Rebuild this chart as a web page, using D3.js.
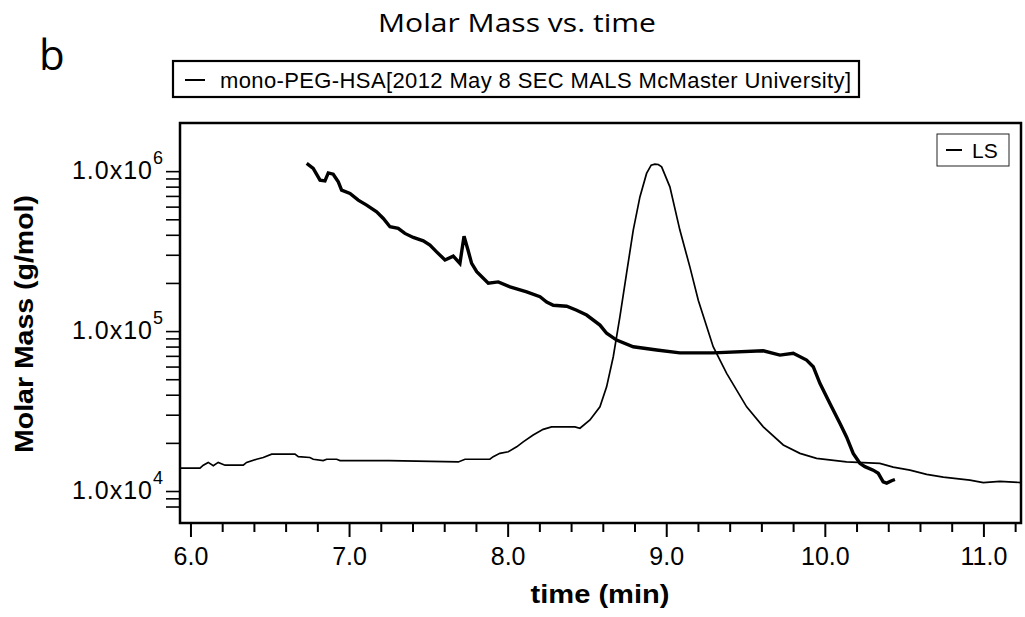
<!DOCTYPE html>
<html>
<head>
<meta charset="utf-8">
<title>Molar Mass vs. time</title>
<script src="https://d3js.org/d3.v7.min.js"></script>
<style>
    body { margin: 0; background: #fff; }
    svg text { fill: #000; font-family: "Liberation Sans", Arial, sans-serif; }
</style>
</head>
<body>
<svg id="chart" width="1025" height="617"></svg>
<script>
    // molar mass trace (thick line)
    const massTime = [6.733, 6.774, 6.817, 6.848, 6.869, 6.900, 6.932, 6.953, 7.006, 7.058, 7.111, 7.174, 7.216, 7.258,
        7.310, 7.352, 7.405, 7.468, 7.510, 7.552, 7.605, 7.657, 7.699, 7.725, 7.750, 7.773, 7.805, 7.878, 7.941, 8.015,
        8.120, 8.204, 8.246, 8.288, 8.372, 8.435, 8.498, 8.582, 8.624, 8.687, 8.792, 8.940, 9.086, 9.296, 9.612, 9.717,
        9.801, 9.885, 9.927, 9.969, 10.032, 10.095, 10.137, 10.179, 10.221, 10.253, 10.305, 10.337, 10.368, 10.390,
        10.421, 10.442];
    const massValue = [1.117e6, 1.04e6, 8.79e5, 8.69e5, 9.75e5, 9.57e5, 8.57e5, 7.61e5, 7.26e5, 6.59e5, 6.13e5, 5.57e5,
        5.06e5, 4.49e5, 4.39e5, 4.08e5, 3.85e5, 3.67e5, 3.45e5, 3.13e5, 2.78e5, 2.94e5, 2.65e5, 3.92e5, 3.21e5, 2.65e5,
        2.35e5, 1.99e5, 2.03e5, 1.89e5, 1.76e5, 1.64e5, 1.52e5, 1.45e5, 1.43e5, 1.35e5, 1.26e5, 1.09e5, 9.69e4, 8.79e4,
        7.98e4, 7.61e4, 7.31e4, 7.31e4, 7.53e4, 7.08e4, 7.26e4, 6.59e4, 5.99e4, 4.71e4, 3.53e4, 2.65e4, 2.18e4, 1.72e4,
        1.49e4, 1.42e4, 1.35e4, 1.29e4, 1.14e4, 1.12e4, 1.16e4, 1.18e4];

    // LS detector trace (thin line)
    const lsTime = [5.934, 6.060, 6.081, 6.112, 6.144, 6.175, 6.218, 6.333, 6.354, 6.417, 6.459, 6.512, 6.659, 6.680,
        6.753, 6.774, 6.837, 6.859, 6.922, 6.943, 7.253, 7.689, 7.731, 7.888, 7.909, 7.951, 8.004, 8.057, 8.098, 8.161,
        8.224, 8.277, 8.424, 8.456, 8.519, 8.582, 8.624, 8.666, 8.708, 8.750, 8.792, 8.834, 8.876, 8.905, 8.928, 8.950,
        8.971, 9.023, 9.086, 9.149, 9.202, 9.296, 9.381, 9.507, 9.612, 9.738, 9.843, 9.948, 10.137, 10.347, 10.431,
        10.537, 10.642, 10.747, 10.915, 10.999, 11.104, 11.237];
    const lsValue = [1.39e4, 1.39e4, 1.45e4, 1.51e4, 1.44e4, 1.51e4, 1.45e4, 1.45e4, 1.51e4, 1.58e4, 1.62e4, 1.70e4,
        1.70e4, 1.64e4, 1.62e4, 1.58e4, 1.55e4, 1.58e4, 1.58e4, 1.55e4, 1.55e4, 1.52e4, 1.58e4, 1.58e4, 1.64e4, 1.72e4,
        1.76e4, 1.89e4, 2.03e4, 2.24e4, 2.43e4, 2.52e4, 2.52e4, 2.47e4, 2.78e4, 3.36e4, 4.48e4, 6.91e4, 1.23e5, 2.30e5,
        4.28e5, 6.90e5, 9.68e5, 1.09e6, 1.106e6, 1.10e6, 1.064e6, 7.98e5, 4.28e5, 2.52e5, 1.56e5, 7.98e4, 5.44e4, 3.36e4,
        2.52e4, 1.94e4, 1.72e4, 1.60e4, 1.52e4, 1.49e4, 1.41e4, 1.35e4, 1.27e4, 1.22e4, 1.17e4, 1.13e4, 1.15e4, 1.13e4];

    // ticks and labels
    const xMajorTicks = [6, 7, 8, 9, 10, 11];
    const xTickLabels = ["6.0", "7.0", "8.0", "9.0", "10.0", "11.0"];
    const xMinorTicks = [6.2, 6.4, 6.6, 6.8, 7.2, 7.4, 7.6, 7.8, 8.2, 8.4, 8.6, 8.8, 9.2, 9.4, 9.6, 9.8,
        10.2, 10.4, 10.6, 10.8, 11.2];
    const yMajorTicks = [1e4, 1e5, 1e6];
    const yTickExponents = ["4", "5", "6"];
    const yMinorTicks = [8e3, 9e3, 2e4, 3e4, 4e4, 5e4, 6e4, 7e4, 8e4, 9e4, 2e5, 3e5, 4e5, 5e5, 6e5, 7e5, 8e5, 9e5];

    const LEFT = 180, RIGHT = 1021, TOP = 123, BOTTOM = 523;

    const svg = d3.select("#chart");

    const x = d3.scaleLinear().domain([5.934, 11.237]).range([LEFT, RIGHT]);
    const y = d3.scaleLog().domain([6310, 2.0e6]).range([BOTTOM, TOP]);

    svg.append("clipPath").attr("id", "plot-clip")
        .append("rect")
        .attr("x", LEFT).attr("y", TOP)
        .attr("width", RIGHT - LEFT).attr("height", BOTTOM - TOP);

    // x axis
    let xMajor = svg.append("g")
        .attr("transform", `translate(0,${BOTTOM})`)
        .call(d3.axisBottom(x).tickValues(xMajorTicks).tickSize(14).tickSizeOuter(0)
            .tickFormat((d, i) => xTickLabels[i]));
    xMajor.select(".domain").remove();
    xMajor.selectAll("line").attr("stroke", "#000").attr("stroke-width", 2);
    xMajor.selectAll("text")
        .attr("y", 42).attr("dy", 0)
        .style("font-size", "25px");

    let xMinor = svg.append("g")
        .attr("transform", `translate(0,${BOTTOM + 1})`)
        .call(d3.axisBottom(x).tickValues(xMinorTicks).tickSize(8).tickSizeOuter(0).tickFormat(""));
    xMinor.select(".domain").remove();
    xMinor.selectAll("line").attr("stroke", "#000").attr("stroke-width", 2);

    // y axis
    let yAxis = svg.append("g")
        .attr("transform", `translate(${LEFT},0)`)
        .call(d3.axisLeft(y).tickValues(yMajorTicks.concat(yMinorTicks)).tickSize(14).tickSizeOuter(0).tickFormat(""));
    yAxis.select(".domain").remove();
    yAxis.selectAll("line").attr("stroke", "#000").attr("stroke-width", 1.6);

    let yLabels = svg.append("g")
        .selectAll("text")
        .data(yMajorTicks)
        .enter()
        .append("text")
        .attr("x", LEFT - 17)
        .attr("y", d => y(d) + 8)
        .attr("text-anchor", "end")
        .style("font-size", "25px");
    yLabels.append("tspan").style("letter-spacing", "1px").text("1.0x10");
    yLabels.append("tspan")
        .attr("dy", -15)
        .style("font-size", "18px")
        .text((d, i) => yTickExponents[i]);

    // frame
    svg.append("rect")
        .attr("x", LEFT).attr("y", TOP)
        .attr("width", RIGHT - LEFT).attr("height", BOTTOM - TOP)
        .attr("fill", "none").attr("stroke", "#000").attr("stroke-width", 2.5);

    // traces
    let line = d3.line().x(d => x(d[0])).y(d => y(d[1]));
    let plot = svg.append("g").attr("clip-path", "url(#plot-clip)");

    plot.append("path")
        .datum(d3.zip(lsTime, lsValue))
        .attr("fill", "none").attr("stroke", "#000").attr("stroke-width", 1.7)
        .attr("d", line);

    plot.append("path")
        .datum(d3.zip(massTime, massValue))
        .attr("fill", "none").attr("stroke", "#000").attr("stroke-width", 3.4)
        .attr("stroke-linejoin", "miter")
        .attr("d", line);

    // titles
    svg.append("text")
        .attr("x", 517).attr("y", 32)
        .attr("text-anchor", "middle")
        .attr("textLength", 278)
        .attr("lengthAdjust", "spacingAndGlyphs")
        .style("font-family", "'Open Sans', sans-serif")
        .style("font-size", "25px")
        .text("Molar Mass vs. time");

    svg.append("text")
        .attr("x", 39).attr("y", 70)
        .style("font-family", "'Open Sans', sans-serif")
        .style("font-size", "42px")
        .text("b");

    svg.append("text")
        .attr("x", 600).attr("y", 603)
        .attr("text-anchor", "middle")
        .attr("textLength", 139)
        .attr("lengthAdjust", "spacingAndGlyphs")
        .style("font-size", "25px")
        .style("font-weight", "bold")
        .text("time (min)");

    svg.append("text")
        .attr("transform", "translate(33,324) rotate(-90)")
        .attr("text-anchor", "middle")
        .attr("textLength", 258)
        .attr("lengthAdjust", "spacingAndGlyphs")
        .style("font-size", "25px")
        .style("font-weight", "bold")
        .text("Molar Mass (g/mol)");

    // sample legend
    svg.append("rect")
        .attr("x", 173).attr("y", 61)
        .attr("width", 686).attr("height", 36)
        .attr("fill", "#fff").attr("stroke", "#000").attr("stroke-width", 2.2);
    svg.append("line")
        .attr("x1", 185).attr("x2", 205).attr("y1", 80).attr("y2", 80)
        .attr("stroke", "#000").attr("stroke-width", 2);
    svg.append("text")
        .attr("x", 220).attr("y", 88)
        .attr("textLength", 631)
        .style("font-size", "22px")
        .text("mono-PEG-HSA[2012 May 8 SEC MALS McMaster University]");

    // LS legend
    svg.append("rect")
        .attr("x", 937).attr("y", 134)
        .attr("width", 72).attr("height", 32)
        .attr("fill", "#fff").attr("stroke", "#222").attr("stroke-width", 1);
    svg.append("line")
        .attr("x1", 946).attr("x2", 962).attr("y1", 150).attr("y2", 150)
        .attr("stroke", "#000").attr("stroke-width", 2);
    svg.append("text")
        .attr("x", 972).attr("y", 157.5)
        .style("font-size", "21px")
        .text("LS");
</script>
</body>
</html>
